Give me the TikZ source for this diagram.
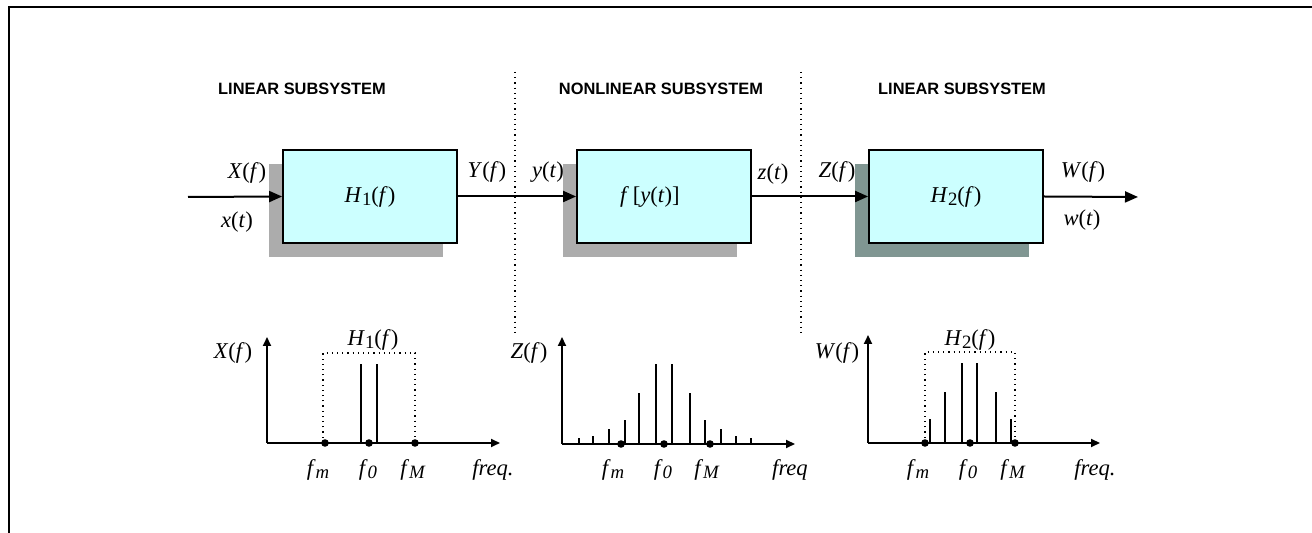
\documentclass[tikz,border=0pt]{standalone}
\usepackage{fontspec}
\setmainfont{Liberation Serif}
\newfontfamily\titlefont{Liberation Sans}
\usetikzlibrary{arrows.meta,shadows}

\definecolor{boxcyan}{RGB}{204,255,255}
\definecolor{shadegray}{RGB}{172,172,172}
\definecolor{shadeteal}{RGB}{128,150,146}

\newcommand{\vr}[1]{\textit{#1}}
\newcommand{\sub}[1]{\raisebox{-0.3ex}{\fontsize{9.4}{10}\selectfont #1}}

\tikzset{
  block/.style={draw,line width=0.9pt,fill=boxcyan,minimum width=87pt,minimum height=46.5pt,inner sep=0pt},
  greyshadow/.style={drop shadow={shadow xshift=-7pt,shadow yshift=-7pt,fill=shadegray,opacity=1}},
  tealshadow/.style={drop shadow={shadow xshift=-7pt,shadow yshift=-7pt,fill=shadeteal,opacity=1}},
  sig/.style={line width=1pt,-{Triangle[length=6.5pt,width=5.5pt]}},
  axis/.style={line width=1pt,-{Triangle[length=4.5pt,width=4pt]}},
  bar/.style={line width=0.8pt},
  divider/.style={dotted,line width=0.6pt},
  band/.style={dotted,line width=0.6pt},
  title/.style={font=\titlefont\bfseries\fontsize{8.2}{10}\selectfont}
}

\begin{document}
\begin{tikzpicture}[x=0.5pt,y=-0.5pt,font=\fontsize{11.3}{13}\selectfont]

  \useasboundingbox (0,0) rectangle (1312,533);

  % frame
  \draw[line width=1pt] (9,533) -- (9,7) -- (1312,7);

  % section titles and dividers
  \node[title] (t1) at (302,89) {LINEAR SUBSYSTEM};
  \node[title] (t2) at (661,89) {NONLINEAR SUBSYSTEM};
  \node[title] (t3) at (962,89) {LINEAR SUBSYSTEM};

  \draw[divider] (515,72) -- (515,334);
  \draw[divider] (801,72) -- (801,334);

  % blocks
  \node[block,greyshadow] (h1) at (370,196.5) {\vr{H}\sub{1}(\vr{f})};
  \node[block,greyshadow] (nl) at (664,196.5) {\hspace{-14pt}\vr{f}\,[\vr{y}(\vr{t})]};
  \node[block,tealshadow] (h2) at (956,196.5) {\vr{H}\sub{2}(\vr{f})};

  \coordinate (in) at (188,197);
  \coordinate (out) at (1138,197);

  \draw[sig] (in) -- (h1.west);
  \draw[sig] (h1.east) -- (nl.west);
  \draw[sig] (nl.east) -- (h2.west);
  \draw[sig] (h2.east) -- (out);

  % signal labels
  \node (lXf) at (247,173) {\vr{X}(\vr{f})};
  \node (lxt) at (237,222) {\vr{x}(\vr{t})};
  \node (lYf) at (487,172) {\vr{Y}(\vr{f})};
  \node (lyt) at (548,172) {\vr{y}(\vr{t})};
  \node (lzt) at (773,174) {\vr{z}(\vr{t})};
  \node (lZf) at (837,172) {\vr{Z}(\vr{f})};
  \node (lWf) at (1083,172) {\vr{W}(\vr{f})};
  \node (lwt) at (1082,220) {\vr{w}(\vr{t})};

  % spectrum X(f)
  \draw[band] (323,443) -- (323,353) -- (415,353) -- (415,443);
  \draw[axis] (267,443) -- (267,337);
  \draw[axis] (267,443) -- (500,443);
  \foreach \x in {361,377}
    \draw[bar] (\x,443) -- (\x,364);
  \foreach \x in {325,369,415}
    \fill (\x,443) circle (1.9pt);
  \node (sX) at (233,353) {\vr{X}(\vr{f})};
  \node (sH1) at (373,340) {\vr{H}\sub{1}(\vr{f})};
  \node (xfm) at (318,470) {\vr{f}\sub{\vr{m}}};
  \node (xf0) at (368,470) {\vr{f}\sub{\vr{0}}};
  \node (xfM) at (413,470) {\vr{f}\sub{\vr{M}}};
  \node (xfr) at (493,470) {\vr{freq.}};

  % spectrum Z(f)
  \draw[axis] (562,444) -- (562,337);
  \draw[axis] (562,444) -- (795,444);
  \foreach \x/\h in {579/438,593/436,609/429,625/420,639/393,656/364,
                     672/364,690/393,705/420,721/429,736/436,751/438}
    \draw[bar] (\x,444) -- (\x,\h);
  \foreach \x in {621,664,710}
    \fill (\x,444) circle (1.9pt);
  \node (sZ) at (529,353) {\vr{Z}(\vr{f})};
  \node (zfm) at (613,470) {\vr{f}\sub{\vr{m}}};
  \node (zf0) at (663,470) {\vr{f}\sub{\vr{0}}};
  \node (zfM) at (707,470) {\vr{f}\sub{\vr{M}}};
  \node (zfr) at (790,470) {\vr{freq}};

  % spectrum W(f)
  \draw[band] (925,443) -- (925,352) -- (1015,352) -- (1015,443);
  \draw[axis] (868,443) -- (868,335);
  \draw[axis] (868,443) -- (1100,443);
  \foreach \x/\h in {930/419,945/392,962/363,977/363,996/392,1011/419}
    \draw[bar] (\x,443) -- (\x,\h);
  \foreach \x in {925,970,1015}
    \fill (\x,443) circle (1.9pt);
  \node (sW) at (837,353) {\vr{W}(\vr{f})};
  \node (sH2) at (970,340) {\vr{H}\sub{2}(\vr{f})};
  \node (wfm) at (918,470) {\vr{f}\sub{\vr{m}}};
  \node (wf0) at (968,470) {\vr{f}\sub{\vr{0}}};
  \node (wfM) at (1013,470) {\vr{f}\sub{\vr{M}}};
  \node (wfr) at (1095,470) {\vr{freq.}};

\end{tikzpicture}
\end{document}
